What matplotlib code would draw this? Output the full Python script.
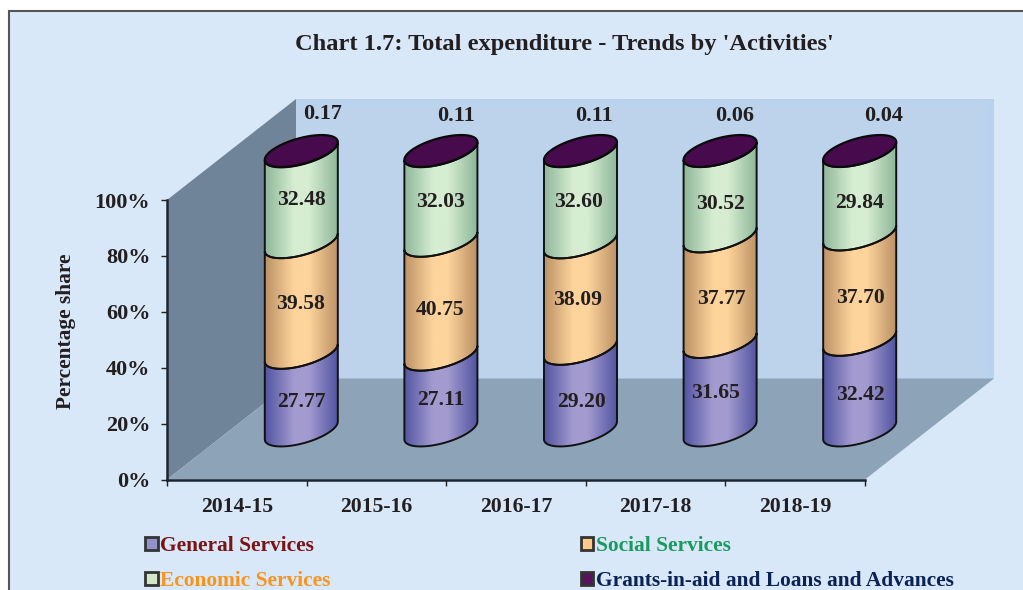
import numpy as np
import matplotlib.pyplot as plt
from matplotlib.patches import Polygon, Rectangle, Patch
from matplotlib.colors import LinearSegmentedColormap

plt.rcParams['font.family'] = ['Liberation Serif', 'DejaVu Serif']
plt.rcParams['font.weight'] = 'bold'

years = ['2014-15', '2015-16', '2016-17', '2017-18', '2018-19']
general = [27.77, 27.11, 29.20, 31.65, 32.42]
social = [39.58, 40.75, 38.09, 37.77, 37.70]
economic = [32.48, 32.03, 32.60, 30.52, 29.84]
grants = [0.17, 0.11, 0.11, 0.06, 0.04]
series_names = ['General Services', 'Social Services', 'Economic Services',
                'Grants-in-aid and Loans and Advances']
y_ticks = [0, 20, 40, 60, 80, 100]

# look of the fake 3d box, in axis units (1 category = 139.6px, 1% = 2.795px)
DEPTH_X = 129 / 139.6
DEPTH_Y = 101 / 2.795
BASE_X = DEPTH_X / 2
BASE_Y = 49 / 2.795
R_WIDE = 30.3 / 139.6
R_DEEP = 0.158
HALF_W = 36.5 / 139.6

BG = '#d8e8f8'
TEXT = '#231f20'

# label nudges in px from the middle of each segment (general, social, economic)
nudge_x = [[0, -1, 0], [0, -1, 0], [1, -3, -2], [-5, 1, 0], [1, 1, 0]]
nudge_y = [[-10, -6, -3], [-7, -12, -6], [-12, -4, -5], [-7, -10, -10], [-10, -11, -10]]
top_nudge_x = [21, 15, 13, 15, 24]
top_nudge_y = [-1, -3, -3, -3, -3]


def ellipse_points(cx, cy, t):
    x = cx + R_WIDE * np.cos(t) + R_DEEP * DEPTH_X * np.sin(t)
    y = cy + R_DEEP * DEPTH_Y * np.sin(t)
    return x, y


def front_arc(cx, cy):
    # from left edge to right edge going round the front
    t0 = np.arctan2(R_DEEP * DEPTH_X, R_WIDE)
    t = np.linspace(t0 + np.pi, t0 + 2 * np.pi, 40)
    return ellipse_points(cx, cy, t)


def shade(edge, mid):
    return LinearSegmentedColormap.from_list(
        'c', [(0, edge), (0.4, mid), (0.6, mid), (1, edge)], N=128)


fig = plt.figure(figsize=(10.23, 5.9), dpi=100, facecolor='white')
fig.patches.append(Rectangle((9 / 1023, -0.02), 1.02, 1.02 - 11 / 590,
                             transform=fig.transFigure, facecolor=BG,
                             edgecolor='#555555', linewidth=1.5, zorder=-1))

ax = fig.add_axes([167 / 1023, 1 - 479.5 / 590, 698 / 1023, 279.5 / 590])
ax.patch.set_visible(False)
ax.set_xlim(-0.5, 4.5)
ax.set_ylim(0, 100)

left, right = -0.5, 4.5
wall_l, wall_r = left + DEPTH_X, right + DEPTH_X
ax.add_patch(Polygon([(wall_l, DEPTH_Y), (wall_r, DEPTH_Y),
                      (wall_r, 100 + DEPTH_Y), (wall_l, 100 + DEPTH_Y)],
                     facecolor='#b7d3ef', edgecolor='none', clip_on=False, zorder=1))
# main back wall, a touch darker than its strips on top and right
ax.add_patch(Polygon([(wall_l, DEPTH_Y), (wall_r - 0.06, DEPTH_Y),
                      (wall_r - 0.06, 98 + DEPTH_Y), (wall_l, 98 + DEPTH_Y)],
                     facecolor='#bdd3ec', edgecolor='none', clip_on=False, zorder=1.1))
ax.add_patch(Polygon([(wall_l, 100 + DEPTH_Y), (wall_r, 100 + DEPTH_Y),
                      (wall_r, 99 + DEPTH_Y), (wall_l, 99 + DEPTH_Y)],
                     facecolor='#bad0e9', edgecolor='none', clip_on=False, zorder=1.2))
ax.add_patch(Polygon([(left, 100), (left + DEPTH_X, 100 + DEPTH_Y),
                      (left + DEPTH_X, DEPTH_Y), (left, 0)],
                     facecolor='#6f8499', edgecolor='none', clip_on=False, zorder=1))
ax.add_patch(Polygon([(left, 0), (right, 0), (right + DEPTH_X, DEPTH_Y),
                      (left + DEPTH_X, DEPTH_Y)],
                     facecolor='#8da4b8', edgecolor='none', clip_on=False, zorder=1.5))

segments = [general, social, economic]
cmaps = [shade('#5355a2', '#a39bd0'), shade('#bd9266', '#fed49c'),
         shade('#8fb79a', '#d6edd2')]

for i in range(len(years)):
    cx = i + BASE_X
    bottom = BASE_Y
    for s, values in enumerate(segments):
        top = bottom + values[i]
        x1, y1 = front_arc(cx, bottom)
        x2, y2 = front_arc(cx, top)
        outline = np.column_stack([np.r_[x1, x2[::-1]], np.r_[y1, y2[::-1]]])
        poly = Polygon(outline, closed=True, facecolor='none', edgecolor='#111111',
                       linewidth=1.4, clip_on=False, zorder=3)
        ax.add_patch(poly)
        im = ax.imshow(np.linspace(0, 1, 128)[None, :], cmap=cmaps[s], aspect='auto',
                       extent=[cx - HALF_W, cx + HALF_W, bottom - 10, top + 10],
                       zorder=2.5)
        im.set_clip_box(fig.bbox)
        im.set_clip_path(poly)
        ax.annotate(f'{values[i]:.2f}', (cx, (bottom + top) / 2),
                    xytext=(nudge_x[i][s] * 0.72, nudge_y[i][s] * 0.72),
                    textcoords='offset points', ha='center', va='center',
                    fontsize=15.6, color=TEXT, zorder=5, annotation_clip=False)
        bottom = top
    # grants sliver is the lid of the cylinder
    top = bottom + grants[i]
    tx, ty = ellipse_points(cx, top, np.linspace(0, 2 * np.pi, 80))
    ax.fill(tx, ty, facecolor='#470a4d', edgecolor='#0a0a0a', linewidth=1.6,
            clip_on=False, zorder=4)
    ax.annotate(f'{grants[i]:.2f}', (cx, top + 38 / 2.795),
                xytext=(top_nudge_x[i] * 0.72, top_nudge_y[i] * 0.72),
                textcoords='offset points', ha='center', va='center',
                fontsize=16, color=TEXT, zorder=5, annotation_clip=False)

ax.set_xlim(-0.5, 4.5)
ax.set_ylim(0, 100)
ax.set_xticks(np.arange(-0.5, 5, 1))
ax.set_xticklabels([])
ax.set_xticks(range(len(years)), years, minor=True)
ax.tick_params(axis='x', which='major', length=4, width=1, color=TEXT)
ax.tick_params(axis='x', which='minor', length=0, pad=12.5, labelsize=15.7, labelcolor=TEXT)
ax.set_yticks(y_ticks, [f'{v}%' for v in y_ticks])
ax.tick_params(axis='y', length=4, width=1, color=TEXT, pad=8, labelsize=16, labelcolor=TEXT)
ax.spines['top'].set_visible(False)
ax.spines['right'].set_visible(False)
ax.spines['left'].set_linewidth(1.8)
ax.spines['bottom'].set_linewidth(1.8)
ax.spines['left'].set_color('#1a2530')
ax.spines['bottom'].set_color('#1a2530')
for sp in ax.spines.values():
    sp.set_zorder(2)

ax.set_ylabel('Percentage share', fontsize=15.4, color=TEXT, fontweight='bold')
ax.yaxis.set_label_coords(-91 / 698, 0.53)

fig.text(564 / 1023, 1 - 44.5 / 590, "Chart 1.7: Total expenditure - Trends by 'Activities'",
         ha='center', va='center', fontsize=17.6, color=TEXT)

handles = [Patch(facecolor=c, edgecolor='#333333', linewidth=2)
           for c in ['#9490c8', '#fdc98a', '#cfe8c5', '#5a0f5f']]
order = [0, 2, 1, 3]
leg = fig.legend([handles[k] for k in order], [series_names[k] for k in order],
                 ncols=2, loc='lower left', bbox_to_anchor=(145 / 1023, -1 / 590),
                 frameon=False, fontsize=15.4, handlelength=0.6, handleheight=0.6,
                 handletextpad=0.1, columnspacing=11.7, labelspacing=0.7,
                 borderpad=0, borderaxespad=0,
                 labelcolor=['#7a1315', '#f7941e', '#1a9a60', '#0b2255'])

plt.savefig('out.png', dpi=100)
